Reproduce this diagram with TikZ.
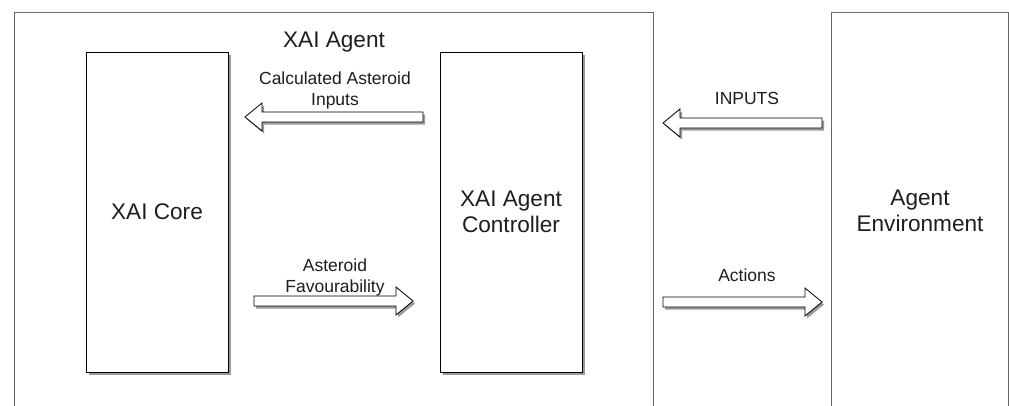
\documentclass[tikz,border=0pt]{standalone}
\usepackage{fontspec}
\setmainfont{Liberation Sans}
\usetikzlibrary{shadows,calc}
\definecolor{framegray}{HTML}{666666}
\definecolor{txt}{HTML}{1E1E1E}
\definecolor{shade}{HTML}{9A9A9A}
\newcommand\blockarrow[2]{%
  \draw[barrow] let \p1=(#1), \p2=(#2), \p3=($(#2)!17pt!(#1)$) in
  (\x1,{\y1+5pt}) -- (\x3,{\y1+5pt}) -- (\x3,{\y1+14pt}) -- (\x2,\y1)
  -- (\x3,{\y1-14pt}) -- (\x3,{\y1-5pt}) -- (\x1,{\y1-5pt}) -- cycle;}
\begin{document}
\begin{tikzpicture}[x=1pt,y=-1pt,
  frame/.style={draw=framegray,line width=0.9pt,fill=none,inner sep=0pt},
  box/.style={draw=black,line width=0.9pt,fill=white,inner sep=0pt,text=txt,
    drop shadow={shadow xshift=2.5pt,shadow yshift=-2.5pt,fill=shade,opacity=1},
    font=\fontsize{22.6}{26}\selectfont,align=center},
  bigtext/.style={text=txt,inner sep=0pt,font=\fontsize{22.6}{26}\selectfont,align=center},
  lbl/.style={text=txt,inner sep=0pt,font=\fontsize{17.5}{21}\selectfont,align=center},
  barrow/.style={draw=black,line width=0.8pt,fill=white,line join=miter,
    drop shadow={shadow xshift=2pt,shadow yshift=-2.5pt,fill=shade,opacity=1}}]
\useasboundingbox (0,0) rectangle (1009,405);
\fill[white] (0,0) rectangle (1009,405);
\clip (0,0) rectangle (1009,405);
% outer frames
\node[frame,minimum width=639pt,minimum height=398pt] (agent) at (333.5,211) {};
\node[bigtext,anchor=base] (agenttitle) at (334,47) {XAI Agent};
\node[frame,minimum width=177pt,minimum height=398pt] (env) at (919.5,211) {};
\node[bigtext] (envtext) at (920,211) {Agent\\Environment};
% inner boxes
\node[box,minimum width=142pt,minimum height=320pt] (core) at (157,212) {XAI Core};
\node[box,minimum width=142pt,minimum height=320pt] (ctrl) at (511,212) {XAI Agent\\Controller};
% arrow endpoints
\coordinate (calcT) at (423,117);
\coordinate (calcH) at (245,117);
\coordinate (inT) at (822,123);
\coordinate (inH) at (663,123);
\coordinate (favT) at (254,301);
\coordinate (favH) at (413,301);
\coordinate (actT) at (663,302);
\coordinate (actH) at (822,302);
\blockarrow{calcT}{calcH}
\blockarrow{inT}{inH}
\blockarrow{favT}{favH}
\blockarrow{actT}{actH}
% labels
\node[lbl] (calcL) at (335,90.5) {Calculated Asteroid\\Inputs};
\node[lbl,anchor=base] (inL) at (747,104) {INPUTS};
\node[lbl] (favL) at (335,277.3) {Asteroid\\Favourability};
\node[lbl,anchor=base] (actL) at (747,281.7) {Actions};
\end{tikzpicture}
\end{document}
